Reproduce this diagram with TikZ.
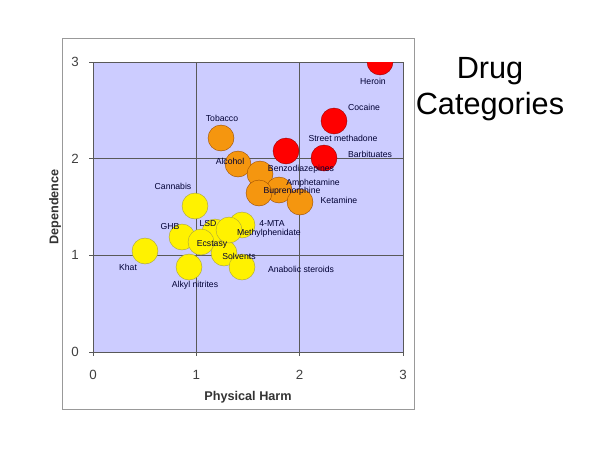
\documentclass[tikz,border=0pt]{standalone}
\usepackage{fontspec}
\setmainfont{Liberation Sans}
\begin{document}
\begin{tikzpicture}[x=0.75pt,y=-0.75pt,
  dot/.style={circle,draw=#1!60!black,line width=0.3pt,minimum size=19.5pt,inner sep=0pt},
  red dot/.style={dot=red,fill=red},
  org dot/.style={dot=orange,fill=orangeC},
  yel dot/.style={dot=yellow,fill=yellow},
  lbl/.style={font=\fontsize{6.5}{7}\selectfont,text=black!80!blue,inner sep=0pt},
  tick/.style={font=\fontsize{10}{11}\selectfont,text=black!75,inner sep=0pt},
  grid line/.style={draw=black!65,line width=0.5pt}]
\definecolor{orangeC}{HTML}{F5960F}
\definecolor{lav}{HTML}{CCCCFF}
\useasboundingbox (0,0) rectangle (600,450);
\fill[white] (0,0) rectangle (600,450);
\draw[black!40,line width=0.6pt] (62,38) rectangle (414,409);
\fill[lav] (93,62) rectangle (403,352);
\foreach \x in {93,196.3,299.7,403} \draw[grid line] (\x,62) -- (\x,352);
\foreach \y in {62,158.7,255.3,352} \draw[grid line] (93,\y) -- (403,\y);
\foreach \x/\t in {93/0,196.3/1,299.7/2,403/3} {\draw[grid line] (\x,352) -- (\x,356); \node[tick] at (\x,375) {\t};}
\foreach \y/\t in {62/3,158.7/2,255.3/1,352/0} {\draw[grid line] (89,\y) -- (93,\y); \node[tick] at (75,\y) {\t};}
\node[font=\bfseries\fontsize{9.5}{10}\selectfont,text=black!80] (xl) at (248,397) {Physical Harm};
\node[font=\bfseries\fontsize{9.5}{10}\selectfont,text=black!80,rotate=90] (yl) at (55,207) {Dependence};
\node[font=\fontsize{23}{27}\selectfont,align=center] (title) at (490,89) {Drug\\Categories};
\begin{scope}
\clip (93,62) rectangle (403,352);
% red
\node[red dot] (heroin) at (380,62) {};
\node[red dot] (cocaine) at (334,121) {};
\node[red dot] (meth) at (286,151) {};
\node[red dot] (barb) at (324,158) {};
% orange
\node[org dot] (tob) at (221,138) {};
\node[org dot] (alc) at (238,164) {};
\node[org dot] (benzo) at (260,174) {};
\node[org dot] (amph) at (279,190) {};
\node[org dot] (bup) at (259,193) {};
\node[org dot] (ket) at (300,202) {};
% yellow
\node[yel dot] (khat) at (145,251) {};
\node[yel dot] (ghb) at (182,237) {};
\node[yel dot] (cann) at (195,206) {};
\node[yel dot] (alkyl) at (189,267) {};
\node[yel dot] (mta) at (242,225) {};
\node[yel dot] (lsd) at (215,232) {};
\node[yel dot] (solv) at (224,253) {};
\node[yel dot] (ana) at (242,267) {};
\node[yel dot] (mph) at (229,230) {};
\node[yel dot] (ecs) at (201,242) {};
\end{scope}
% labels
\node[lbl] (l1) at (373,81) {Heroin};
\node[lbl] (l2) at (364,107) {Cocaine};
\node[lbl] (l3) at (343,138) {Street methadone};
\node[lbl] (l4) at (370,154) {Barbituates};
\node[lbl] (l5) at (222,118) {Tobacco};
\node[lbl] (l6) at (230,161) {Alcohol};
\node[lbl] (l7) at (301,169) {Benzodiazepines};
\node[lbl] (l8) at (313,183) {Amphetamine};
\node[lbl] (l9) at (292,191) {Buprenorphine};
\node[lbl] (l10) at (339,200) {Ketamine};
\node[lbl] (l11) at (173,186) {Cannabis};
\node[lbl] (l12) at (272,224) {4-MTA};
\node[lbl] (l13) at (269,233) {Methylphenidate};
\node[lbl] (l14) at (208,224) {LSD};
\node[lbl] (l15) at (170,227) {GHB};
\node[lbl] (l16) at (212,244) {Ecstasy};
\node[lbl] (l17) at (239,256) {Solvents};
\node[lbl] (l18) at (128,267) {Khat};
\node[lbl] (l19) at (195,285) {Alkyl nitrites};
\node[lbl] (l20) at (301,269) {Anabolic steroids};
\end{tikzpicture}
\end{document}
